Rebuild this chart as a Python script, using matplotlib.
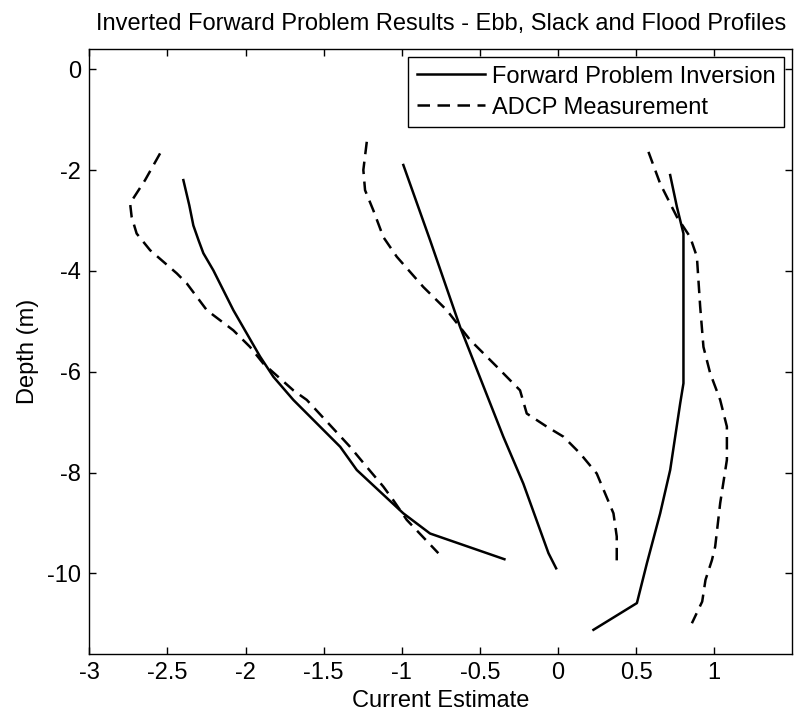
import matplotlib
matplotlib.use("Agg")
import matplotlib.pyplot as plt

plt.rcParams['font.family'] = ['Liberation Sans', 'DejaVu Sans']

# Ebb profile
ebb_fwd_x = [-2.398, -2.360, -2.334, -2.300, -2.270, -2.206, -2.078, -1.907, -1.822, -1.694, -1.394, -1.288, -0.990, -0.819, -0.343]
ebb_fwd_z = [-2.20, -2.70, -3.10, -3.40, -3.65, -3.99, -4.78, -5.70, -6.10, -6.56, -7.49, -7.95, -8.81, -9.21, -9.72]
ebb_adcp_x = [-2.547, -2.643, -2.739, -2.729, -2.697, -2.611, -2.440, -2.376, -2.248, -2.078, -1.971, -1.886,
              -1.694, -1.608, -1.331, -1.224, -1.118, -1.054, -0.968, -0.766]
ebb_adcp_z = [-1.67, -2.20, -2.66, -2.93, -3.26, -3.59, -4.05, -4.25, -4.78, -5.18, -5.51, -5.84,
              -6.37, -6.56, -7.49, -7.89, -8.28, -8.55, -8.94, -9.60]

# Slack profile
slack_fwd_x = [-0.990, -0.819, -0.627, -0.350, -0.222, -0.061, -0.012]
slack_fwd_z = [-1.90, -3.39, -5.11, -7.29, -8.22, -9.60, -9.90]
slack_adcp_x = [-1.224, -1.246, -1.235, -1.182, -1.118, -1.032, -0.862, -0.712, -0.563, -0.392, -0.243, -0.200,
                -0.072, 0.035, 0.141, 0.248, 0.355, 0.376, 0.376]
slack_adcp_z = [-1.44, -2.00, -2.40, -2.80, -3.33, -3.72, -4.32, -4.78, -5.37, -5.90, -6.37, -6.83,
                -7.09, -7.29, -7.62, -8.02, -8.81, -9.27, -9.77]

# Flood profile
flood_fwd_x = [0.718, 0.761, 0.803, 0.803, 0.782, 0.718, 0.654, 0.569, 0.505, 0.227]
flood_fwd_z = [-2.10, -2.73, -3.26, -6.23, -6.63, -7.95, -8.81, -9.80, -10.59, -11.12]
flood_adcp_x = [0.579, 0.654, 0.761, 0.846, 0.889, 0.910, 0.931, 0.974, 1.038, 1.081, 1.081, 1.038,
                1.006, 0.985, 0.944, 0.923, 0.857]
flood_adcp_z = [-1.64, -2.27, -2.93, -3.33, -3.72, -4.71, -5.51, -6.03, -6.56, -7.09, -7.75, -8.61,
                -9.47, -9.74, -10.13, -10.56, -10.99]

x_ticks = [-3, -2.5, -2, -1.5, -1, -0.5, 0, 0.5, 1]
x_ticklabels = ['-3', '-2.5', '-2', '-1.5', '-1', '-0.5', '0', '0.5', '1']
y_ticks = [0, -2, -4, -6, -8, -10]
y_ticklabels = ['0', '-2', '-4', '-6', '-8', '-10']

FS = 17
fig = plt.figure(figsize=(8.01, 7.19), dpi=100)
ax = fig.add_axes([0.1115, 0.0904, 0.8777, 0.8414])

lw = 1.8
dash = (0, (5, 3))
ax.plot(ebb_fwd_x, ebb_fwd_z, color='black', lw=lw, label='Forward Problem Inversion')
ax.plot(ebb_adcp_x, ebb_adcp_z, color='black', lw=lw, linestyle=dash, label='ADCP Measurement')
ax.plot(slack_fwd_x, slack_fwd_z, color='black', lw=lw)
ax.plot(slack_adcp_x, slack_adcp_z, color='black', lw=lw, linestyle=dash)
ax.plot(flood_fwd_x, flood_fwd_z, color='black', lw=lw)
ax.plot(flood_adcp_x, flood_adcp_z, color='black', lw=lw, linestyle=dash)

ax.set_xlim(-3, 1.5)
ax.set_ylim(-11.6, 0.4)
ax.set_xticks(x_ticks)
ax.set_xticklabels(x_ticklabels)
ax.set_yticks(y_ticks)
ax.set_yticklabels(y_ticklabels)
ax.tick_params(direction='in', length=5, width=1, top=True, right=True, labelsize=FS, pad=6)
for s in ax.spines.values():
    s.set_linewidth(1.0)

ax.set_xlabel('Current Estimate', fontsize=FS, labelpad=4)
ax.set_ylabel('Depth (m)', fontsize=FS, labelpad=6)
ax.set_title('Inverted Forward Problem Results - Ebb, Slack and Flood Profiles', fontsize=FS, pad=14)

leg = ax.legend(loc='upper right', fontsize=FS, handlelength=2.9, handletextpad=0.3,
                labelspacing=0.38, borderaxespad=0.35, borderpad=0.35, fancybox=False,
                framealpha=1, edgecolor='black')
leg.get_frame().set_linewidth(1.0)

fig.savefig('out.png', dpi=100)
